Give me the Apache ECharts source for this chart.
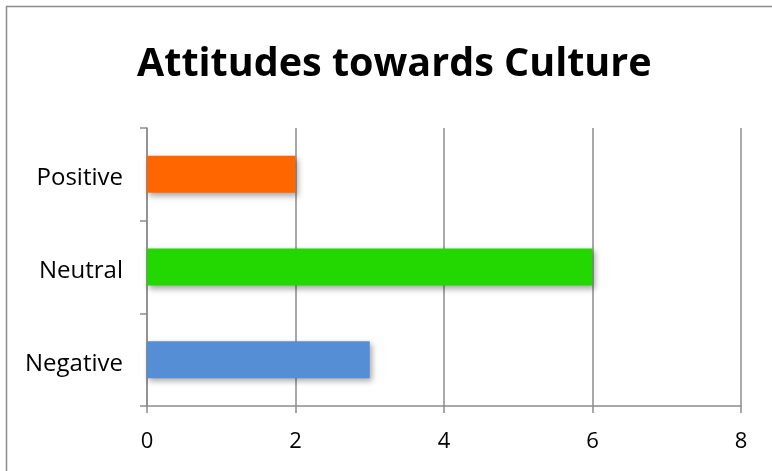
<!DOCTYPE html>
<html>
<head>
<meta charset="utf-8">
<script src="https://cdn.jsdelivr.net/npm/echarts@6/dist/echarts.min.js"></script>
<style>
  html, body { margin: 0; padding: 0; background: #fff; }
  #chart { width: 772px; height: 471px; }
</style>
</head>
<body>
<div id="chart"></div>
<script>
// Survey categories, listed bottom to top as the category axis draws them
const categories = ['Negative', 'Neutral', 'Positive'];
const counts = [3, 6, 2];
const barColors = ['#558ED5', '#22D800', '#FF6600'];
const xTicks = [0, 2, 4, 6, 8];

const chart = echarts.init(document.getElementById('chart'), null, { renderer: 'canvas' });

const axisGray = '#8c8c8c';

chart.setOption({
  animation: false,
  backgroundColor: '#fff',
  title: {
    text: 'Attitudes towards Culture',
    left: 132,
    top: 40,
    textStyle: { fontFamily: 'Open Sans', fontWeight: 'bold', fontSize: 39.5, color: '#000' }
  },
  graphic: [{
    type: 'rect',
    shape: { x: 6.5, y: 6.5, width: 800, height: 500 },
    style: { fill: null, stroke: axisGray, lineWidth: 1.5 },
    silent: true
  }],
  grid: { left: 147, right: 31, top: 128, bottom: 65 },
  xAxis: {
    type: 'value',
    min: xTicks[0],
    max: xTicks[xTicks.length - 1],
    interval: 2,
    axisLine: { show: true, lineStyle: { color: axisGray, width: 1.5 } },
    axisTick: { show: true, length: 7, lineStyle: { color: axisGray, width: 1.5 } },
    axisLabel: { fontFamily: 'Open Sans', fontSize: 22, color: '#000', margin: 25 },
    splitLine: { show: true, lineStyle: { color: axisGray, width: 1.5 } }
  },
  yAxis: {
    type: 'category',
    data: categories,
    axisLine: { show: true, lineStyle: { color: axisGray, width: 1.5 } },
    axisTick: { show: true, length: 7, lineStyle: { color: axisGray, width: 1.5 } },
    // a short line box aligned to the top drops each label a few pixels below its band centre
    axisLabel: {
      fontFamily: 'Open Sans', fontSize: 24, color: '#000', margin: 24,
      verticalAlign: 'top', lineHeight: 8
    }
  },
  series: [{
    type: 'bar',
    data: counts.map((v, i) => ({
      value: v,
      itemStyle: {
        color: barColors[i],
        shadowColor: 'rgba(0,0,0,0.35)',
        shadowBlur: 6,
        shadowOffsetX: 2,
        shadowOffsetY: 3
      }
    })),
    barCategoryGap: '60%'
  }]
});
</script>
</body>
</html>
